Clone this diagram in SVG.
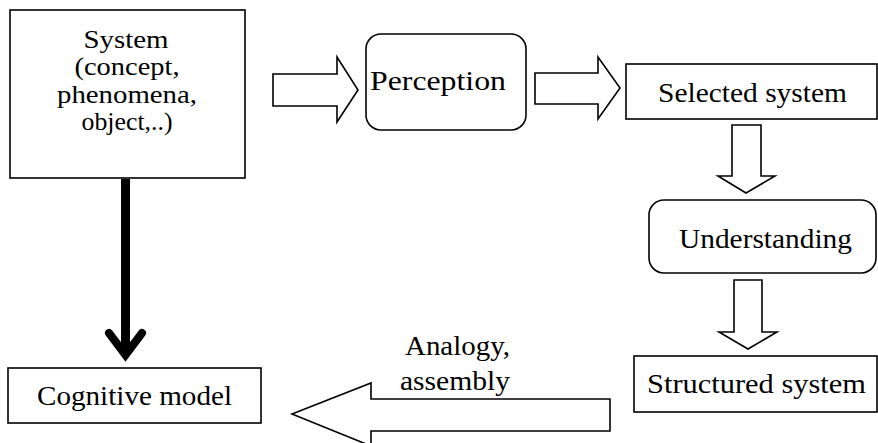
<svg xmlns="http://www.w3.org/2000/svg" width="878" height="443" viewBox="0 0 878 443">
<style>
.box{fill:#fff;stroke:#000;stroke-width:1.6}
.arr{fill:#fff;stroke:#000;stroke-width:1.6;stroke-linejoin:miter}
text{font-family:"Liberation Serif","Times New Roman",serif;font-size:28px;fill:#000}
.s{font-size:26px}
.m{text-anchor:middle}
</style>
<rect width="878" height="443" fill="#fff"/>
<g id="connectors">
<polygon class="arr" points="273,74 337,74 337,57 358,90 337,122 337,106 273,106"/>
<polygon class="arr" points="535,73 598,73 598,57 620,88 598,119 598,104 535,104"/>
<polygon class="arr" points="732,125 761,125 761,176 775,176 746,193 718,176 732,176"/>
<polygon class="arr" points="734,280 762,280 762,332 777,332 748,349 719,332 734,332"/>
<polygon class="arr" points="610,399 371,399 371,383 292,414 371,446 371,431 610,431"/>
<line x1="125.5" y1="179" x2="125.5" y2="352" stroke="#000" stroke-width="9"/>
<polyline points="109,333 125.5,355 142,333" fill="none" stroke="#000" stroke-width="8" stroke-linecap="round" stroke-linejoin="miter" stroke-miterlimit="6"/>
<text x="405" y="355" textLength="105" lengthAdjust="spacingAndGlyphs">Analogy,</text>
<text x="400" y="390" textLength="110" lengthAdjust="spacingAndGlyphs">assembly</text>
</g>
<g id="system">
<rect class="box" x="10" y="10" width="235" height="168"/>
<text class="m s" x="126" y="48" textLength="85" lengthAdjust="spacingAndGlyphs">System</text>
<text class="m s" x="127" y="75" textLength="105" lengthAdjust="spacingAndGlyphs">(concept,</text>
<text class="m s" x="127" y="103" textLength="140" lengthAdjust="spacingAndGlyphs">phenomena,</text>
<text class="m s" x="127" y="130" textLength="91" lengthAdjust="spacingAndGlyphs">object,..)</text>
</g>
<g id="perception">
<rect class="box" x="366" y="34" width="160" height="96" rx="15"/>
<text x="370" y="90" textLength="136" lengthAdjust="spacingAndGlyphs">Perception</text>
</g>
<g id="selected">
<rect class="box" x="626" y="64" width="251" height="55"/>
<text x="658" y="102" textLength="189" lengthAdjust="spacingAndGlyphs">Selected system</text>
</g>
<g id="understanding">
<rect class="box" x="649" y="200" width="227" height="73" rx="15"/>
<text x="679" y="248" textLength="173" lengthAdjust="spacingAndGlyphs">Understanding</text>
</g>
<g id="structured">
<rect class="box" x="634" y="356" width="243" height="56"/>
<text x="647" y="393" textLength="219" lengthAdjust="spacingAndGlyphs">Structured system</text>
</g>
<g id="cognitive">
<rect class="box" x="8" y="368" width="253" height="55"/>
<text x="37" y="405" textLength="195" lengthAdjust="spacingAndGlyphs">Cognitive model</text>
</g>
</svg>
